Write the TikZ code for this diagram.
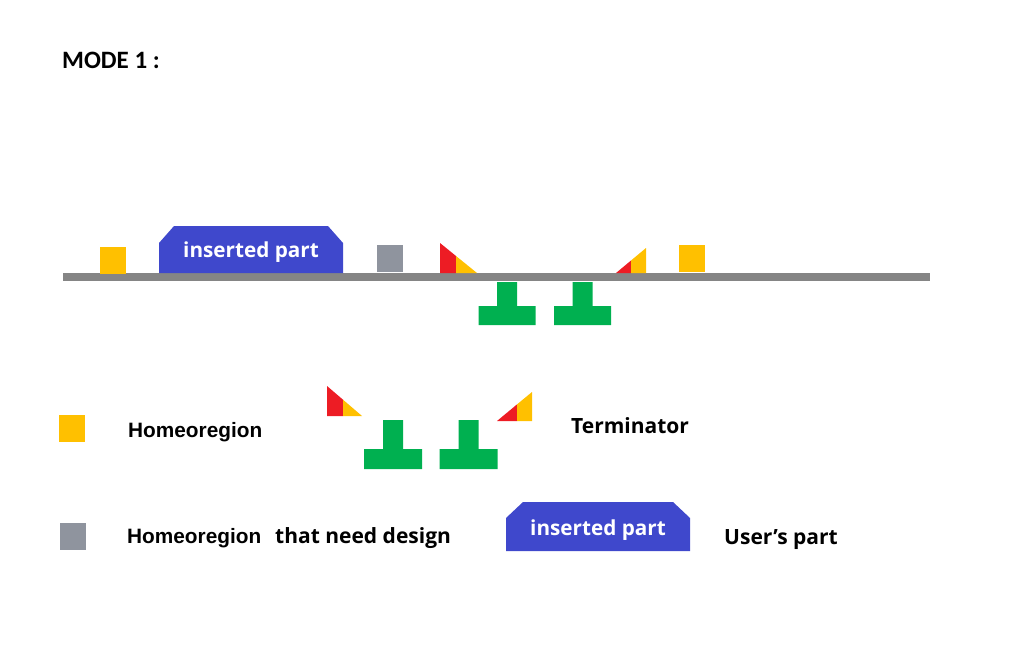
\documentclass[tikz,border=0pt]{standalone}
\usepackage{fontspec}
\setmainfont{Open Sans}
\newfontfamily\arialfont{Liberation Sans}
\newfontfamily\calfont{Carlito}
\usepackage{xcolor}
\usepackage{tikz}

\definecolor{cYellow}{HTML}{FFC000}
\definecolor{cGray}{HTML}{8F949E}
\definecolor{cLine}{HTML}{858585}
\definecolor{cBlue}{HTML}{3F48CC}
\definecolor{cRed}{HTML}{ED1C24}
\definecolor{cGreen}{HTML}{00B050}

\begin{document}
\begin{tikzpicture}[x=1pt, y=-1pt,
    box/.style = {inner sep=0pt, minimum width=26pt, minimum height=27pt},
    homeo/.style = {box, fill=cYellow},
    design/.style = {box, fill=cGray},
    dna/.style = {draw=cLine, line width=8pt},
    part/.style = {fill=cBlue},
    ptext/.style = {anchor=base, inner sep=0pt, text=white, font=\bfseries\fontsize{20.7}{24}\selectfont},
    txt/.style = {anchor=base west, inner sep=0pt, font=\bfseries\fontsize{21}{25}\selectfont},
    arial/.style = {font=\arialfont\bfseries\fontsize{20.8}{25}\selectfont}]
    \useasboundingbox (0,0) rectangle (1024,666);

    \node[txt, font=\calfont\bfseries\fontsize{25}{30}\selectfont] (mode) at (62,69) {MODE 1 :};

    % construct
    \coordinate (l) at (63,277);
    \coordinate (r) at (930,277);
    \draw[dna] (l) -- (r);
    \node[homeo] (h1) at (113,260.5) {};
    \fill[part] (159,273) -- (159,243) -- (174,226) -- (328,226) -- (343,243) -- (343,273) -- cycle;
    \node[ptext] (p1) at (251,257) {inserted part};
    \node[design] (d1) at (390,258.5) {};
    \fill[cRed] (440,243) -- (456,256) -- (456,273) -- (440,273) -- cycle;
    \fill[cYellow] (456,256) -- (477,273) -- (456,273) -- cycle;
    \fill[cRed] (616,273) -- (631,260.5) -- (631,273) -- cycle;
    \fill[cYellow] (631,260.5) -- (646,248) -- (646,273) -- (631,273) -- cycle;
    \node[homeo] (h2) at (691.5,258.5) {};
    \foreach \x in {507,582.5}
        \fill[cGreen] (\x-10,282) rectangle (\x+10,306) (\x-28.5,306) rectangle (\x+28.5,325);

    % legend
    \node[homeo] (h3) at (72,428.5) {};
    \node[txt, arial] (t1) at (128,437) {Homeoregion};
    \fill[cRed] (327,386) -- (343,399.7) -- (343,416) -- (327,416) -- cycle;
    \fill[cYellow] (343,399.7) -- (362,416) -- (343,416) -- cycle;
    \fill[cRed] (497,421) -- (517,404.4) -- (517,421) -- cycle;
    \fill[cYellow] (517,404.4) -- (532,392) -- (532,421) -- (517,421) -- cycle;
    \foreach \x in {393,468.5}
        \fill[cGreen] (\x-10,420) rectangle (\x+10,449) (\x-29,449) rectangle (\x+29,469);
    \node[txt] (t2) at (571,433) {Terminator};

    \node[design] (d2) at (72.5,536) {};
    \node[txt, arial] (t3) at (127,543) {Homeoregion};
    \node[txt] (t4) at (275,543) {that need design};
    \fill[part] (506,551) -- (506,518) -- (523,502) -- (673,502) -- (690,518) -- (690,551) -- cycle;
    \node[ptext] (p2) at (598,535) {inserted part};
    \node[txt] (t5) at (724,544) {User’s part};
\end{tikzpicture}
\end{document}
